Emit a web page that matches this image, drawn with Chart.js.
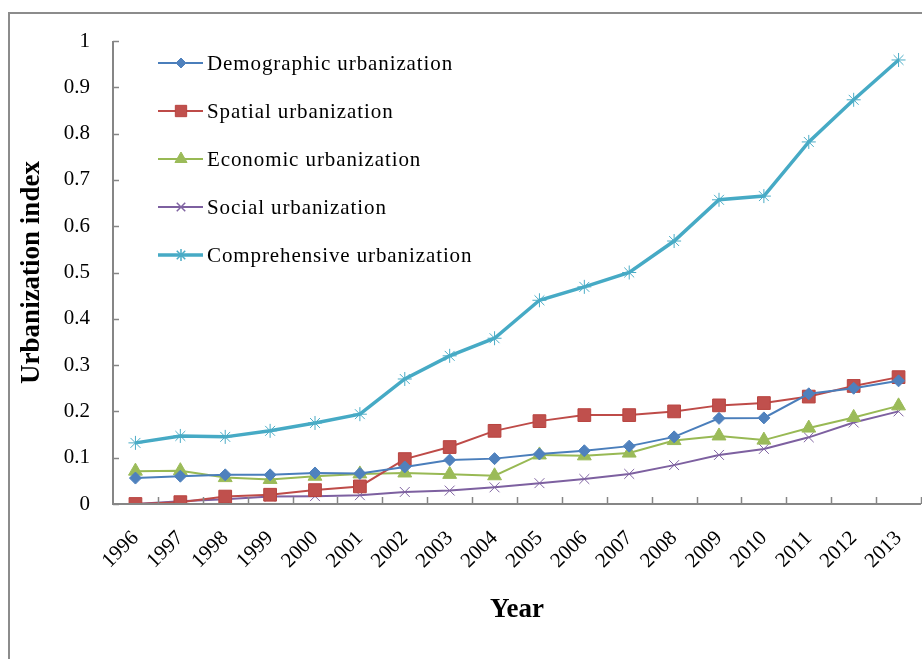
<!DOCTYPE html>
<html>
<head>
<meta charset="utf-8">
<script src="https://cdn.jsdelivr.net/npm/chart.js@4/dist/chart.umd.min.js"></script>
<style>
html,body{margin:0;padding:0;background:#fff;}
#wrap{position:relative;width:922px;height:659px;}
</style>
</head>
<body>
<div id="wrap"><canvas id="c" width="922" height="659"></canvas></div>
<script>
const years = ['1996','1997','1998','1999','2000','2001','2002','2003','2004','2005','2006','2007','2008','2009','2010','2011','2012','2013'];
const demographic = [0.056,0.060,0.063,0.063,0.067,0.066,0.080,0.095,0.098,0.108,0.115,0.125,0.145,0.185,0.186,0.238,0.250,0.266];
const spatial = [0.000,0.004,0.016,0.020,0.030,0.038,0.097,0.123,0.158,0.179,0.192,0.192,0.200,0.213,0.218,0.232,0.255,0.274];
const economic = [0.071,0.072,0.057,0.053,0.060,0.065,0.067,0.064,0.061,0.106,0.104,0.110,0.137,0.147,0.138,0.164,0.187,0.212];
const social = [0.000,0.006,0.010,0.016,0.017,0.019,0.026,0.029,0.036,0.045,0.054,0.065,0.084,0.106,0.119,0.144,0.176,0.200];
const comprehensive = [0.132,0.147,0.145,0.158,0.175,0.194,0.270,0.320,0.358,0.440,0.469,0.500,0.568,0.657,0.665,0.782,0.873,0.959];
const seriesNames = ['Demographic urbanization','Spatial urbanization','Economic urbanization','Social urbanization','Comprehensive urbanization'];
const yTickLabels = ['0','0.1','0.2','0.3','0.4','0.5','0.6','0.7','0.8','0.9','1'];

const SERIF = '"Liberation Serif","Times New Roman",serif';
const AXIS = '#868686';

function ds(label, data, line, fill, style, radius, width, border) {
  return {label, data, borderColor: line, backgroundColor: fill, pointStyle: style,
    pointRadius: radius, pointHoverRadius: radius, pointBackgroundColor: fill,
    pointBorderColor: border || fill, pointBorderWidth: 1, borderWidth: width, tension: 0};
}

const frame = {
  id: 'frame',
  beforeDraw(chart) {
    const ctx = chart.ctx;
    ctx.save();
    ctx.strokeStyle = '#8c8c8c';
    ctx.lineWidth = 2;
    ctx.beginPath();
    ctx.moveTo(9, 659);
    ctx.lineTo(9, 13);
    ctx.lineTo(922, 13);
    ctx.stroke();
    ctx.restore();
  },
  afterDatasetsDraw(chart) {
    const ctx = chart.ctx;
    const y = chart.scales.y;
    const a = chart.chartArea;
    ctx.save();
    ctx.strokeStyle = AXIS;
    ctx.lineWidth = 1.5;
    ctx.beginPath();
    y.ticks.forEach((t, i) => {
      const py = Math.round(y.getPixelForTick(i)) + 0.5;
      ctx.moveTo(a.left, py); ctx.lineTo(a.left + 6, py);
    });
    const n = years.length;
    const w = (a.right - a.left) / n;
    for (let i = 1; i <= n; i++) {
      const px = Math.round(a.left + i * w) + 0.5;
      ctx.moveTo(px, a.bottom); ctx.lineTo(px, a.bottom - 7);
    }
    ctx.stroke();
    ctx.lineWidth = 2;
    ctx.beginPath();
    ctx.moveTo(a.left, a.top);
    ctx.lineTo(a.left, a.bottom);
    ctx.lineTo(a.right, a.bottom);
    ctx.stroke();
    ctx.restore();
  },
  afterDraw(chart) {
    const ctx = chart.ctx;
    chart.data.datasets.forEach((d, i) => {
      const cy = 63 + i * 48;
      ctx.save();
      ctx.strokeStyle = d.borderColor;
      ctx.lineWidth = d.borderWidth;
      ctx.beginPath();
      ctx.moveTo(158, cy); ctx.lineTo(203, cy);
      ctx.stroke();
      ctx.fillStyle = d.pointBackgroundColor;
      ctx.strokeStyle = d.pointBorderColor;
      ctx.lineWidth = (d.pointStyle === 'crossRot' || d.pointStyle === 'star') ? 1.5 : 1;
      Chart.helpers.drawPoint(ctx, {pointStyle: d.pointStyle, radius: d.pointRadius - 1, borderWidth: ctx.lineWidth}, 181, cy);
      ctx.fillStyle = '#000';
      ctx.font = '21px ' + SERIF;
      if ('letterSpacing' in ctx) ctx.letterSpacing = '0.9px';
      ctx.textAlign = 'left';
      ctx.textBaseline = 'middle';
      ctx.fillText(d.label, 207, cy + 1);
      if ('letterSpacing' in ctx) ctx.letterSpacing = '0px';
      ctx.restore();
    });
  }
};

new Chart(document.getElementById('c'), {
  type: 'line',
  data: {
    labels: years,
    datasets: [
      ds(seriesNames[0], demographic, '#4A7EBB', '#4F81BD', 'rectRot', 6, 2),
      ds(seriesNames[1], spatial, '#BE4B48', '#C0504D', 'rect', 9, 2, '#B8433F'),
      ds(seriesNames[2], economic, '#98B954', '#9BBB59', 'triangle', 8, 2),
      ds(seriesNames[3], social, '#7D60A0', '#8064A2', 'crossRot', 7, 2),
      ds(seriesNames[4], comprehensive, '#46AAC5', '#4BACC6', 'star', 7, 3.5)
    ]
  },
  options: {
    responsive: false,
    animation: false,
    events: [],
    layout: {autoPadding: false, padding: {left: 0, right: 1, top: 41, bottom: 0}},
    plugins: {legend: {display: false}, tooltip: {enabled: false}},
    scales: {
      x: {
        offset: true,
        grid: {display: false, drawTicks: false},
        border: {display: false},
        ticks: {color: '#000', font: {family: SERIF, size: 21}, minRotation: 45, maxRotation: 45, padding: 22, autoSkip: false},
        title: {display: true, text: 'Year', color: '#000', font: {family: SERIF, size: 27, weight: 'bold'}, padding: {top: 0, bottom: 33}},
        afterFit(s) { s.height = 155; s.paddingLeft = 0; s.paddingRight = 0; }
      },
      y: {
        min: 0, max: 1,
        grid: {display: false, drawTicks: false},
        border: {display: false},
        ticks: {stepSize: 0.1, color: '#000', font: {family: SERIF, size: 21}, padding: 23,
          callback: (v, i) => yTickLabels[i]},
        title: {display: true, text: 'Urbanization index', color: '#000', font: {family: SERIF, size: 27, weight: 'bold'}, padding: {top: 16, bottom: 0}},
        afterFit(s) { s.width = 113; }
      }
    }
  },
  plugins: [frame]
});
</script>
</body>
</html>
